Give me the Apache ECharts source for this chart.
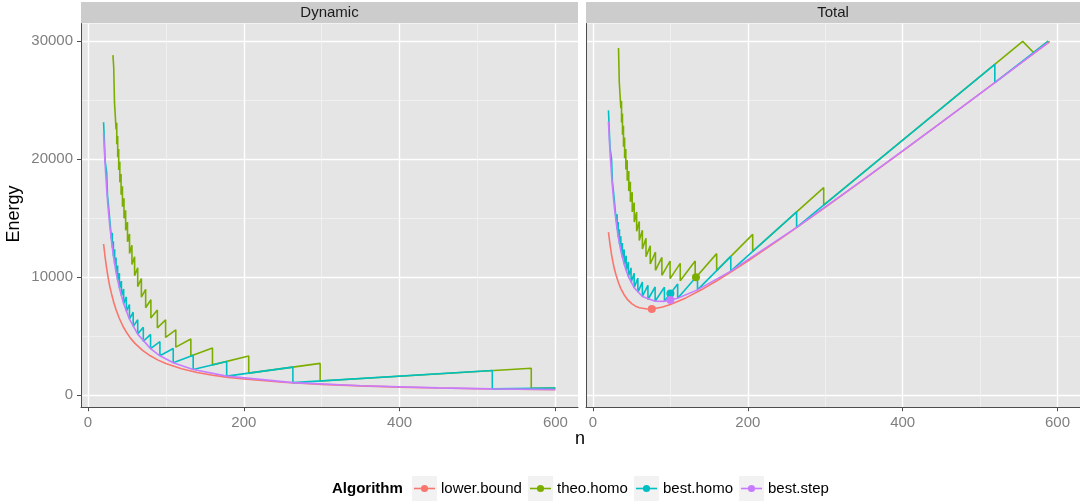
<!DOCTYPE html>
<html><head><meta charset="utf-8">
<script src="https://cdn.jsdelivr.net/npm/echarts@6/dist/echarts.min.js"></script>
<style>html,body{margin:0;padding:0;background:#fff}#c{width:1080px;height:504px}</style>
</head><body><div id="c"></div>
<script>
// ---------- data ----------
const algorithms = ['lower.bound', 'theo.homo', 'best.homo', 'best.step'];
const panels = ['Dynamic', 'Total'];
const xTickValues = [0, 200, 400, 600];
const xMinorValues = [100, 300, 500];
const yTickValues = [0, 10000, 20000, 30000];
const yMinorValues = [5000, 15000, 25000];

// Dynamic energy, [n, energy]
const lowerBoundDynamic = [[20,12800],[22,11660],[24,10700],[26,9890],[28,9190],[30,8630],[33,7860],[36,7220],[40,6525],[45,5810],[50,5250],[55,4780],[60,4400],[70,3790],[80,3325],[90,2960],[100,2670],[120,2230],[140,1915],[160,1680],[180,1495],[200,1355],[250,1088],[300,907],[350,775],[400,675],[450,598],[500,536],[550,488],[600,448]];
const theoHomoDynamic = [[32,28800],[33,27753],[34,24786],[35,23660],[36,22500],[36.9,23063],[36.9,21254],[38.1,21946],[38.1,20155],[39.4,20843],[39.4,19070],[40.86,19776],[40.86,18019],[42.45,18720],[42.45,16980],[44.2,17680],[44.2,15956],[46.2,16678],[46.2,14969],[48.3,15649],[48.3,13959],[50.7,14652],[50.7,12979],[53.3,13645],[53.3,11993],[56.4,12690],[56.4,11054],[59.8,11721],[59.8,10106],[63.8,10782],[63.8,9187],[68.5,9864],[68.5,8289],[74,8954],[74,7400],[80.7,8070],[80.7,6537],[89,7209],[89,5696],[99.6,6374],[99.6,4880],[112.7,5522],[112.7,4057],[132,4752],[132,3300],[159.75,3994],[159.75,2556],[206.3,3301],[206.3,1857],[298,2682],[298,1192],[569,2276],[569,569],[600,600]];
const bestHomoDynamic = [[20,23120],[21,21504],[22,19800],[23,19343],[24,18816],[25,16900],[26,16250],[27,15552],[28,14812],[29,14036],[30,13230],[31.2,13759],[31.2,12480],[32.6,13040],[32.6,11769],[34.2,12346],[34.2,11081],[36,11664],[36,10404],[38,10982],[38,9728],[40.3,10317],[40.3,9068],[42.9,9653],[42.9,8408],[45.8,8977],[45.8,7740],[49.2,8315],[49.2,7085],[53.2,7661],[53.2,6437],[58,7018],[58,5800],[63.8,6380],[63.8,5168],[71,5751],[71,4544],[80.3,5139],[80.3,3935],[92.3,4523],[92.3,3323],[109.4,3938],[109.4,2735],[135,3375],[135,2160],[178,2848],[178,1602],[263,2367],[263,1052],[519,2076],[519,519],[600,600]];
const bestStepDynamic = [[20,22150],[21.3,20389],[22.5,18952],[24,17442],[25.6,16000],[27.6,14564],[29.9,13148],[32.6,11791],[36,10404],[40.3,9053],[45.8,7730],[53.2,6433],[63.8,5164],[80.3,3933],[92.3,3325],[109.4,2735],[135,2160],[178,1602],[263,1052],[350,790],[450,610],[519,519],[600,470]];

// Total energy, [n, energy]
const lowerBoundTotal = [[20,13800],[22,12760],[24,11900],[26,11190],[28,10590],[30,10130],[33,9510],[36,9020],[40,8525],[45,8060],[50,7750],[55,7530],[60,7400],[70,7290],[80,7325],[90,7460],[100,7670],[120,8230],[140,8915],[160,9680],[180,10495],[200,11355],[250,13588],[300,15907],[350,18275],[400,20675],[450,23098],[500,25536],[550,27988],[590,29955]];
const theoHomoTotal = [[33,29403],[34,26486],[35,25410],[36,24300],[36.9,24908],[36.9,23099],[38.1,23851],[38.1,22060],[39.4,22813],[39.4,21040],[40.86,21819],[40.86,20062],[42.45,20843],[42.45,19103],[44.2,19890],[44.2,18166],[46.2,18988],[46.2,17279],[48.3,18064],[48.3,16374],[50.7,17187],[50.7,15514],[53.3,16310],[53.3,14658],[56.4,15510],[56.4,13874],[59.8,14711],[59.8,13096],[63.8,13972],[63.8,12377],[68.5,13289],[68.5,11714],[74,12654],[74,11100],[80.7,12105],[80.7,10572],[89,11659],[89,10146],[99.6,11354],[99.6,9860],[112.7,11157],[112.7,9692],[132,11352],[132,9900],[159.75,11982],[159.75,10544],[206.3,13616],[206.3,12172],[298,17582],[298,16092],[555,29970],[569,29019],[588,29988]];
const bestHomoTotal = [[20,24120],[21,22554],[22,20900],[23,20493],[24,20016],[25,18150],[26,17550],[27,16902],[28,16212],[29,15486],[30,14730],[31.2,15319],[31.2,14040],[32.6,14670],[32.6,13399],[34.2,14056],[34.2,12791],[36,13464],[36,12204],[38,12882],[38,11628],[40.3,12332],[40.3,11083],[42.9,11798],[42.9,10553],[45.8,11267],[45.8,10030],[49.2,10775],[49.2,9545],[53.2,10321],[53.2,9097],[58,9918],[58,8700],[63.8,9570],[63.8,8358],[71,9301],[71,8094],[80.3,9154],[80.3,7950],[92.3,9138],[92.3,7938],[109.4,9408],[109.4,8205],[135,10125],[135,8910],[178,11748],[178,10502],[263,15517],[263,14202],[519,28026],[519,26469],[588,29988]];
const bestStepTotal = [[20,23150],[21.3,21454],[22.5,20077],[24,18642],[25.6,17280],[27.6,15944],[29.9,14643],[32.6,13421],[36,12204],[40.3,11068],[45.8,10020],[53.2,9093],[63.8,8354],[80.3,7948],[92.3,7940],[109.4,8205],[135,8910],[178,10502],[263,14202],[350,18290],[450,23110],[519,26469],[588,29878]];

// highlighted points on the Total panel, one per algorithm
const totalMarkers = [[76,7300],[133,9975],[100,8610],[100,8045]];

// ---------- styling / layout ----------
const colors = ['#F8766D', '#7CAE00', '#00BFC4', '#C77CFF'];
const dynamicSeries = [lowerBoundDynamic, theoHomoDynamic, bestHomoDynamic, bestStepDynamic];
const totalSeries = [lowerBoundTotal, theoHomoTotal, bestHomoTotal, bestStepTotal];

const GRID_TOP = 23.5, GRID_H = 383.7;
const GRIDS = [{left: 81, width: 497}, {left: 586, width: 494}];
const X_MIN = -9, X_MAX = 629, Y_MIN = -1030, Y_MAX = 31480;
const FONT = '"Liberation Sans", Arial, sans-serif';

const chart = echarts.init(document.getElementById('c'), null, {renderer: 'canvas'});

const grid = GRIDS.map(g => ({left: g.left, top: GRID_TOP, width: g.width, height: GRID_H,
  show: true, backgroundColor: '#E5E5E5', borderColor: '#7F7F7F', borderWidth: 0}));

function xAxisMain(i) {
  return {type: 'value', gridIndex: i, position: 'bottom', min: X_MIN, max: X_MAX,
    axisLine: {show: true, onZero: false, lineStyle: {color: '#4D4D4D', width: 1}},
    axisTick: {show: true, length: 4, customValues: xTickValues, lineStyle: {color: '#4D4D4D'}},
    axisLabel: {customValues: xTickValues, color: '#7F7F7F', fontSize: 15, margin: 8, fontFamily: FONT,
      formatter: v => String(v)},
    splitLine: {show: true, lineStyle: {color: '#FFFFFF', width: 1.4}}};
}
function xAxisMinor(i) {
  return {type: 'value', gridIndex: i, position: 'bottom', min: X_MIN, max: X_MAX,
    axisLine: {show: false}, axisTick: {show: false, customValues: xMinorValues},
    axisLabel: {show: false, customValues: xMinorValues},
    splitLine: {show: true, lineStyle: {color: '#F2F2F2', width: 0.8}}};
}
function yAxisMain(i) {
  return {type: 'value', gridIndex: i, position: 'left', min: Y_MIN, max: Y_MAX,
    axisLine: {show: true, onZero: false, lineStyle: {color: '#4D4D4D', width: 1}},
    axisTick: {show: i === 0, length: 4, customValues: yTickValues, lineStyle: {color: '#4D4D4D'}},
    axisLabel: {show: i === 0, customValues: yTickValues, color: '#7F7F7F', fontSize: 15, margin: 8, fontFamily: FONT,
      formatter: v => String(v)},
    splitLine: {show: true, lineStyle: {color: '#FFFFFF', width: 1.4}}};
}
function yAxisMinor(i) {
  return {type: 'value', gridIndex: i, position: 'left', min: Y_MIN, max: Y_MAX,
    axisLine: {show: false}, axisTick: {show: false, customValues: yMinorValues},
    axisLabel: {show: false, customValues: yMinorValues},
    splitLine: {show: true, lineStyle: {color: '#F2F2F2', width: 0.8}}};
}

const xAxis = [xAxisMinor(0), xAxisMinor(1), xAxisMain(0), xAxisMain(1)];
const yAxis = [yAxisMinor(0), yAxisMinor(1), yAxisMain(0), yAxisMain(1)];

const series = [];
[dynamicSeries, totalSeries].forEach((set, p) => {
  set.forEach((data, a) => {
    series.push({type: 'line', name: algorithms[a], xAxisIndex: 2 + p, yAxisIndex: 2 + p,
      data: data, showSymbol: false, symbol: 'none', silent: true, animation: false,
      lineStyle: {color: colors[a], width: 1.6}, z: 3 + a});
  });
});
totalMarkers.forEach((pt, a) => {
  series.push({type: 'scatter', name: algorithms[a] + ' min', xAxisIndex: 3, yAxisIndex: 3,
    data: [pt], symbol: 'circle', symbolSize: 8, itemStyle: {color: colors[a], opacity: 1},
    animation: false, silent: true, z: 10});
});

// strips, titles and legend as graphic elements
const graphic = [];
GRIDS.forEach((g, i) => {
  graphic.push({type: 'rect', left: g.left, top: 2, shape: {width: g.width, height: 21},
    style: {fill: '#CCCCCC'}, silent: true});
  graphic.push({type: 'text', x: g.left + g.width / 2, y: 13,
    style: {text: panels[i], fill: '#1A1A1A', font: '15px ' + FONT, align: 'center', verticalAlign: 'middle'}});
});
graphic.push({type: 'text', x: 580, y: 439, style: {text: 'n', fill: '#000', font: '18px ' + FONT, align: 'center', verticalAlign: 'middle'}});
graphic.push({type: 'text', x: 14, y: 214, rotation: Math.PI / 2,
  style: {text: 'Energy', fill: '#000', font: '18px ' + FONT, align: 'center', verticalAlign: 'middle'}});

// legend
graphic.push({type: 'text', x: 332, y: 488.5, style: {text: 'Algorithm', fill: '#000', font: 'bold 15px ' + FONT, align: 'left', verticalAlign: 'middle'}});
const keyX = [412, 528, 634, 739];
algorithms.forEach((name, a) => {
  const kx = keyX[a];
  graphic.push({type: 'rect', left: kx, top: 476, shape: {width: 25, height: 25}, style: {fill: '#F2F2F2'}, silent: true});
  graphic.push({type: 'line', shape: {x1: kx + 2, y1: 488.5, x2: kx + 23, y2: 488.5}, style: {stroke: colors[a], lineWidth: 1.6}, silent: true});
  graphic.push({type: 'circle', shape: {cx: kx + 12.5, cy: 488.5, r: 3.6}, style: {fill: colors[a]}, silent: true});
  graphic.push({type: 'text', x: kx + 29, y: 488.5, style: {text: name, fill: '#000', font: '15px ' + FONT, align: 'left', verticalAlign: 'middle'}});
});

chart.setOption({
  animation: false,
  backgroundColor: '#FFFFFF',
  grid: grid,
  xAxis: xAxis,
  yAxis: yAxis,
  series: series,
  graphic: graphic
});
</script></body></html>
